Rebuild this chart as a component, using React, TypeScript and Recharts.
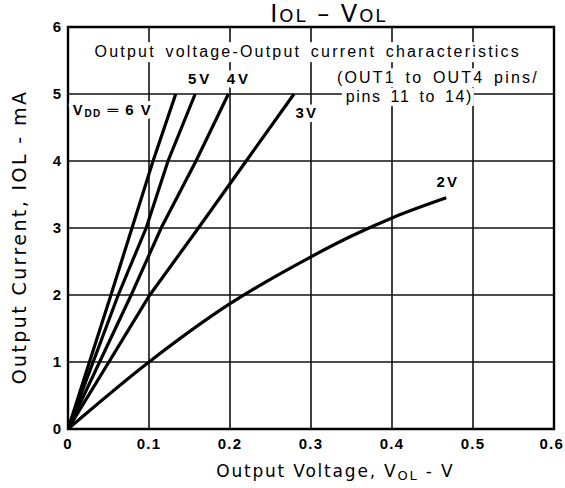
import React from 'react';
import { LineChart, Line, XAxis, YAxis, CartesianGrid, ReferenceDot, ReferenceArea } from 'recharts';

// Axis ticks
const xTicks = [0, 0.1, 0.2, 0.3, 0.4, 0.5, 0.6];
const yTicks = [0, 1, 2, 3, 4, 5, 6];

// VOL (V) / IOL (mA) per supply voltage
const vdd6Vol = [0, 0.053, 0.079, 0.105, 0.133];
const vdd6Iol = [0, 2, 3, 4, 5];
const vdd5Vol = [0, 0.062, 0.0965, 0.1235, 0.157];
const vdd5Iol = [0, 2, 3, 4, 5];
const vdd4Vol = [0, 0.078, 0.115, 0.158, 0.198];
const vdd4Iol = [0, 2, 3, 4, 5];
const vdd3Vol = [0, 0.101, 0.161, 0.22, 0.279];
const vdd3Iol = [0, 2, 3, 4, 5];
const vdd2Vol = [0, 0.1, 0.2, 0.3, 0.35, 0.4, 0.467];
const vdd2Iol = [0, 1, 1.87, 2.57, 2.88, 3.15, 3.45];

const toPts = (xs: number[], ys: number[]) => xs.map((x, i) => ({ x, y: ys[i] }));

const series = [
  { name: '6V', data: toPts(vdd6Vol, vdd6Iol), type: 'linear' },
  { name: '5V', data: toPts(vdd5Vol, vdd5Iol), type: 'linear' },
  { name: '4V', data: toPts(vdd4Vol, vdd4Iol), type: 'linear' },
  { name: '3V', data: toPts(vdd3Vol, vdd3Iol), type: 'linear' },
  { name: '2V', data: toPts(vdd2Vol, vdd2Iol), type: 'monotone' },
];

const TICK_FONT = '"Liberation Sans", Arial, sans-serif';
const TEXT_FONT = '"Liberation Sans", Arial, sans-serif';
const AXIS_FONT = '"DejaVu Sans", sans-serif';

const mask = {
  stroke: '#fff',
  strokeWidth: 8,
  strokeLinejoin: 'round' as const,
  paintOrder: 'stroke' as const,
};

type Note = { x: number; y: number; render: (cx: number, cy: number) => React.ReactElement };

const notes: Note[] = [
  {
    x: 0.322, y: 6,
    render: (cx, cy) => (
      <text x={cx} y={cy - 5} textAnchor="middle" fontFamily={AXIS_FONT} fontSize={24} letterSpacing={2} fill="#000">
        I<tspan fontSize={18}>OL</tspan> – V<tspan fontSize={18}>OL</tspan>
      </text>
    ),
  },
  {
    x: 0.296, y: 5.55,
    render: (cx, cy) => (
      <g>
        <rect x={cx - 222} y={cy - 15} width={444} height={20} fill="#fff" />
        <text x={cx} y={cy} textAnchor="middle" fontFamily={TEXT_FONT} fontSize={16} letterSpacing={2.2} wordSpacing={3} fill="#000">
          Output voltage-Output current characteristics
        </text>
      </g>
    ),
  },
  {
    x: 0.332, y: 5.16,
    render: (cx, cy) => (
      <g>
        <rect x={cx - 4} y={cy - 15} width={212} height={19} fill="#fff" />
        <text x={cx} y={cy} fontFamily={TEXT_FONT} fontSize={16} letterSpacing={2.2} wordSpacing={3} fill="#000">
          (OUT1 to OUT4 pins/
        </text>
      </g>
    ),
  },
  {
    x: 0.343, y: 4.88,
    render: (cx, cy) => (
      <g>
        <rect x={cx - 4} y={cy - 14} width={132} height={18} fill="#fff" />
        <text x={cx} y={cy} fontFamily={TEXT_FONT} fontSize={16} letterSpacing={1.6} wordSpacing={3} fill="#000">
          pins 11 to 14)
        </text>
      </g>
    ),
  },
  {
    x: 0.148, y: 5.15,
    render: (cx, cy) => (
      <text x={cx} y={cy} fontFamily={TEXT_FONT} fontSize={15} fontWeight="bold" letterSpacing={3} fill="#000" {...mask}>
        5V
      </text>
    ),
  },
  {
    x: 0.196, y: 5.15,
    render: (cx, cy) => (
      <text x={cx} y={cy} fontFamily={TEXT_FONT} fontSize={15} fontWeight="bold" letterSpacing={3} fill="#000" {...mask}>
        4V
      </text>
    ),
  },
  {
    x: 0.006, y: 4.69,
    render: (cx, cy) => (
      <text x={cx} y={cy} fontFamily={TEXT_FONT} fontSize={15} fontWeight="bold" letterSpacing={1.5} fill="#000" {...mask}>
        V<tspan fontSize={10} dy={2}>DD</tspan><tspan dy={-2}> ═ 6 V</tspan>
      </text>
    ),
  },
  {
    x: 0.281, y: 4.64,
    render: (cx, cy) => (
      <text x={cx} y={cy} fontFamily={TEXT_FONT} fontSize={15} fontWeight="bold" letterSpacing={2} fill="#000" {...mask}>
        3V
      </text>
    ),
  },
  {
    x: 0.455, y: 3.61,
    render: (cx, cy) => (
      <text x={cx} y={cy} fontFamily={TEXT_FONT} fontSize={15} fontWeight="bold" letterSpacing={2} fill="#000" {...mask}>
        2V
      </text>
    ),
  },
  {
    x: 0.33, y: 0,
    render: (cx, cy) => (
      <text x={cx} y={cy + 48} textAnchor="middle" fontFamily={AXIS_FONT} fontSize={17} letterSpacing={1.8} fill="#000">
        Output Voltage, V<tspan fontSize={13} dy={3}>OL</tspan><tspan dy={-3}> - V</tspan>
      </text>
    ),
  },
  {
    x: 0, y: 3,
    render: (cx, cy) => (
      <text
        x={cx - 42}
        y={cy + 9}
        textAnchor="middle"
        fontFamily={AXIS_FONT}
        fontSize={19}
        letterSpacing={2.4}
        fill="#000"
        transform={`rotate(-90 ${cx - 42} ${cy + 9})`}
      >
        Output Current, IOL - mA
      </text>
    ),
  },
];

const fmtX = (v: number) => (v === 0 ? '0' : v.toFixed(1));

const XTick = (props: any) => {
  const { x, y, payload } = props;
  const last = payload.value >= 0.6;
  return (
    <text
      x={last ? x + 10 : x}
      y={y}
      dy="0.71em"
      textAnchor={last ? 'end' : 'middle'}
      fontFamily={TICK_FONT}
      fontSize={15}
      fontWeight="bold"
      letterSpacing={1.2}
      fill="#000"
    >
      {fmtX(payload.value)}
    </text>
  );
};

export default function App() {
  return (
    <div style={{ position: 'absolute', left: 0, top: 0, width: 565, height: 488, background: '#fff' }}>
      <LineChart width={565} height={488} margin={{ top: 27, right: 11, bottom: 29, left: 18 }}>
        <CartesianGrid stroke="#111" strokeWidth={1.6} />
        <XAxis
          type="number"
          dataKey="x"
          domain={[0, 0.6]}
          ticks={xTicks}
          interval={0}
          allowDataOverflow
          height={30}
          tickSize={0}
          tickMargin={9}
          axisLine={false}
          tick={<XTick />}
        />
        <YAxis
          type="number"
          domain={[0, 6]}
          ticks={yTicks}
          interval={0}
          allowDataOverflow
          width={50}
          tickSize={0}
          tickMargin={7}
          axisLine={false}
          tick={{ fontFamily: TICK_FONT, fontSize: 15, fontWeight: 'bold', fill: '#000' }}
        />
        {series.map((s) => (
          <Line
            key={s.name}
            data={s.data}
            dataKey="y"
            type={s.type as any}
            stroke="#000"
            strokeWidth={3.2}
            dot={false}
            activeDot={false}
            isAnimationActive={false}
          />
        ))}
        <ReferenceArea x1={0} x2={0.6} y1={0} y2={6} fill="none" stroke="#000" strokeWidth={2.4} ifOverflow="visible" />
        {notes.map((n, i) => (
          <ReferenceDot
            key={i}
            x={n.x}
            y={n.y}
            r={1}
            ifOverflow="visible"
            shape={(p: any) => n.render(p.cx, p.cy)}
          />
        ))}
      </LineChart>
    </div>
  );
}
